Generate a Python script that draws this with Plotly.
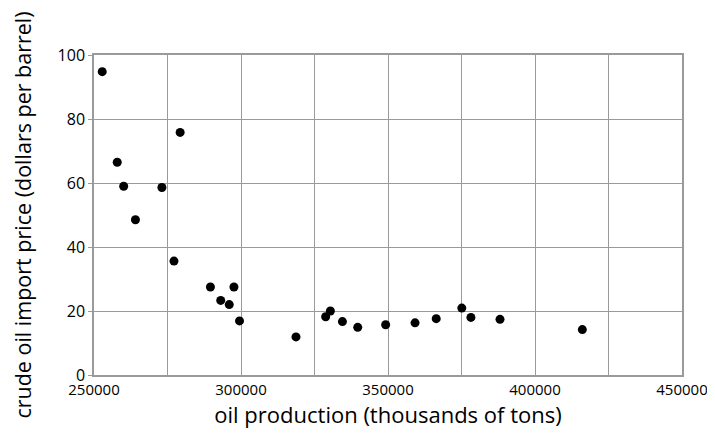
import plotly.graph_objects as go

production = [252800, 257900, 260100, 264100, 273100, 277200, 279300, 289600,
              293100, 296000, 297600, 299500, 318700, 328800, 330400, 334500,
              339700, 349200, 359200, 366400, 375100, 378200, 388100, 416100]
price = [94.8, 66.5, 59.0, 48.5, 58.6, 35.6, 75.8, 27.5,
         23.3, 22.0, 27.5, 16.9, 11.9, 18.2, 20.0, 16.7,
         14.9, 15.7, 16.3, 17.6, 20.9, 18.0, 17.4, 14.2]

x_ticks = [250000, 300000, 350000, 400000, 450000]
y_ticks = [0, 20, 40, 60, 80, 100]

font_family = "Open Sans, Noto Sans, sans-serif"
grid = "#9a9a9a"

fig = go.Figure(go.Scatter(
    x=production, y=price, mode="markers",
    marker=dict(color="black", size=9, line=dict(width=0)),
))

# page body has an 8px default margin, so the figure is sized to compensate
fig.update_layout(
    width=707, height=439,
    margin=dict(l=86, r=33, t=47, b=72),
    paper_bgcolor="white", plot_bgcolor="white",
    showlegend=False,
    font=dict(family=font_family, color="black", size=16),
    xaxis=dict(
        range=[250000, 450000], tickvals=x_ticks, ticktext=[str(v) for v in x_ticks],
        showgrid=True, gridcolor=grid, gridwidth=1,
        minor=dict(dtick=25000, tick0=250000, showgrid=True, gridcolor=grid, gridwidth=1),
        showline=True, linecolor=grid, linewidth=1.5, mirror=True,
        zeroline=False, ticks="", ticklen=0, automargin=False,
        ticklabeloverflow="allow",
        tickfont=dict(size=15),
        title=dict(text="oil production (thousands of tons)", font=dict(size=22), standoff=10),
    ),
    yaxis=dict(
        range=[0, 100], tickvals=y_ticks,
        showgrid=True, gridcolor=grid, gridwidth=1,
        showline=True, linecolor=grid, linewidth=1.5, mirror=True,
        zeroline=False, ticks="outside", ticklen=4, tickcolor=grid, automargin=False,
        tickfont=dict(size=16),
        title=dict(text="crude oil import price (dollars per barrel)", font=dict(size=21.5), standoff=24),
    ),
)

fig.write_html("out.html")
